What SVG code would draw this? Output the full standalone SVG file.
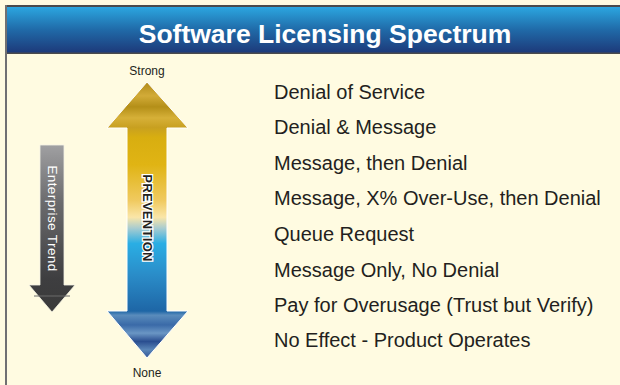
<svg xmlns="http://www.w3.org/2000/svg" width="620" height="385" viewBox="0 0 620 385">
  <defs>
    <linearGradient id="titleGrad" x1="0" y1="0" x2="0" y2="1">
      <stop offset="0" stop-color="#2ba6e0"/>
      <stop offset="0.5" stop-color="#206aa8"/>
      <stop offset="1" stop-color="#1d3a7a"/>
    </linearGradient>
    <linearGradient id="trendGrad" x1="0" y1="145" x2="0" y2="312" gradientUnits="userSpaceOnUse">
      <stop offset="0" stop-color="#a0a0a2"/>
      <stop offset="0.35" stop-color="#6a6a6c"/>
      <stop offset="0.8" stop-color="#3e3e40"/>
      <stop offset="1" stop-color="#3a3a3a"/>
    </linearGradient>
    <linearGradient id="prevGrad" x1="0" y1="82" x2="0" y2="358" gradientUnits="userSpaceOnUse">
      <stop offset="0" stop-color="#b08a1a"/>
      <stop offset="0.05" stop-color="#d2ab38"/>
      <stop offset="0.09" stop-color="#b48f18"/>
      <stop offset="0.13" stop-color="#d6b038"/>
      <stop offset="0.165" stop-color="#c8a020"/>
      <stop offset="0.2" stop-color="#d8ae10"/>
      <stop offset="0.3" stop-color="#e0b414"/>
      <stop offset="0.43" stop-color="#f0ca60"/>
      <stop offset="0.49" stop-color="#fae6a8"/>
      <stop offset="0.53" stop-color="#a8ccd0"/>
      <stop offset="0.585" stop-color="#2aaee4"/>
      <stop offset="0.7" stop-color="#2a8cc8"/>
      <stop offset="0.83" stop-color="#1e66a6"/>
      <stop offset="0.845" stop-color="#5a8cbc"/>
      <stop offset="0.88" stop-color="#3a6aa8"/>
      <stop offset="0.91" stop-color="#6a96c4"/>
      <stop offset="0.94" stop-color="#2a4e90"/>
      <stop offset="0.97" stop-color="#5a86b8"/>
      <stop offset="1" stop-color="#2e5294"/>
    </linearGradient>
    <style>
      .item { font-family: "Liberation Sans", Arial, sans-serif; font-size: 20px; fill: #231f20; }
      .end { font-family: "Liberation Sans", Arial, sans-serif; font-size: 12px; fill: #231f20; text-anchor: middle; }
    </style>
  </defs>

  <!-- panel background and frame -->
  <rect x="0" y="0" width="620" height="385" fill="#fffbe1"/>
  <rect x="5" y="5" width="615" height="49" fill="#4a4a4c"/>
  <rect x="7" y="7" width="613" height="45.5" fill="url(#titleGrad)"/>
  <rect x="5" y="5" width="2" height="380" fill="#707072"/>

  <g id="title">
    <text x="325" y="43" text-anchor="middle" font-family="'Liberation Sans', Arial, sans-serif" font-weight="bold" font-size="26.5" fill="#ffffff">Software Licensing Spectrum</text>
  </g>

  <!-- Enterprise trend arrow -->
  <g id="enterprise-trend">
    <polygon points="40,145 64,145 64,285 75,285 52,312 29,285 40,285" fill="url(#trendGrad)" stroke="#f4f2e4" stroke-width="0.8"/>
    <line x1="34" y1="296" x2="70" y2="296" stroke="#6a6a6a" stroke-width="1"/>
    <text transform="translate(47.5,218.5) rotate(90)" text-anchor="middle" font-family="'Liberation Sans', Arial, sans-serif" font-size="13.5" letter-spacing="0.4" fill="#ffffff">Enterprise Trend</text>
  </g>

  <!-- Prevention double arrow -->
  <g id="prevention">
    <polygon points="147,82 188,128 167,128 167,311 188,311 147,358 107,311 127,311 127,128 107,128" fill="url(#prevGrad)" stroke="#ffffff" stroke-width="1"/>
    <text transform="translate(143,218) rotate(90)" text-anchor="middle" font-family="'Liberation Sans', Arial, sans-serif" font-weight="bold" font-size="13" fill="#231f20" stroke="#ffffff" stroke-width="2.5" paint-order="stroke" letter-spacing="0.3">PREVENTION</text>
    <text class="end" x="147" y="75">Strong</text>
    <text class="end" x="147" y="377">None</text>
  </g>

  <!-- spectrum levels -->
  <g id="levels">
    <text class="item" x="274" y="99">Denial of Service</text>
    <text class="item" x="274" y="134">Denial &amp; Message</text>
    <text class="item" x="274" y="170">Message, then Denial</text>
    <text class="item" x="274" y="205">Message, X% Over-Use, then Denial</text>
    <text class="item" x="274" y="241">Queue Request</text>
    <text class="item" x="274" y="277">Message Only, No Denial</text>
    <text class="item" x="274" y="312">Pay for Overusage (Trust but Verify)</text>
    <text class="item" x="274" y="347">No Effect - Product Operates</text>
  </g>
</svg>
